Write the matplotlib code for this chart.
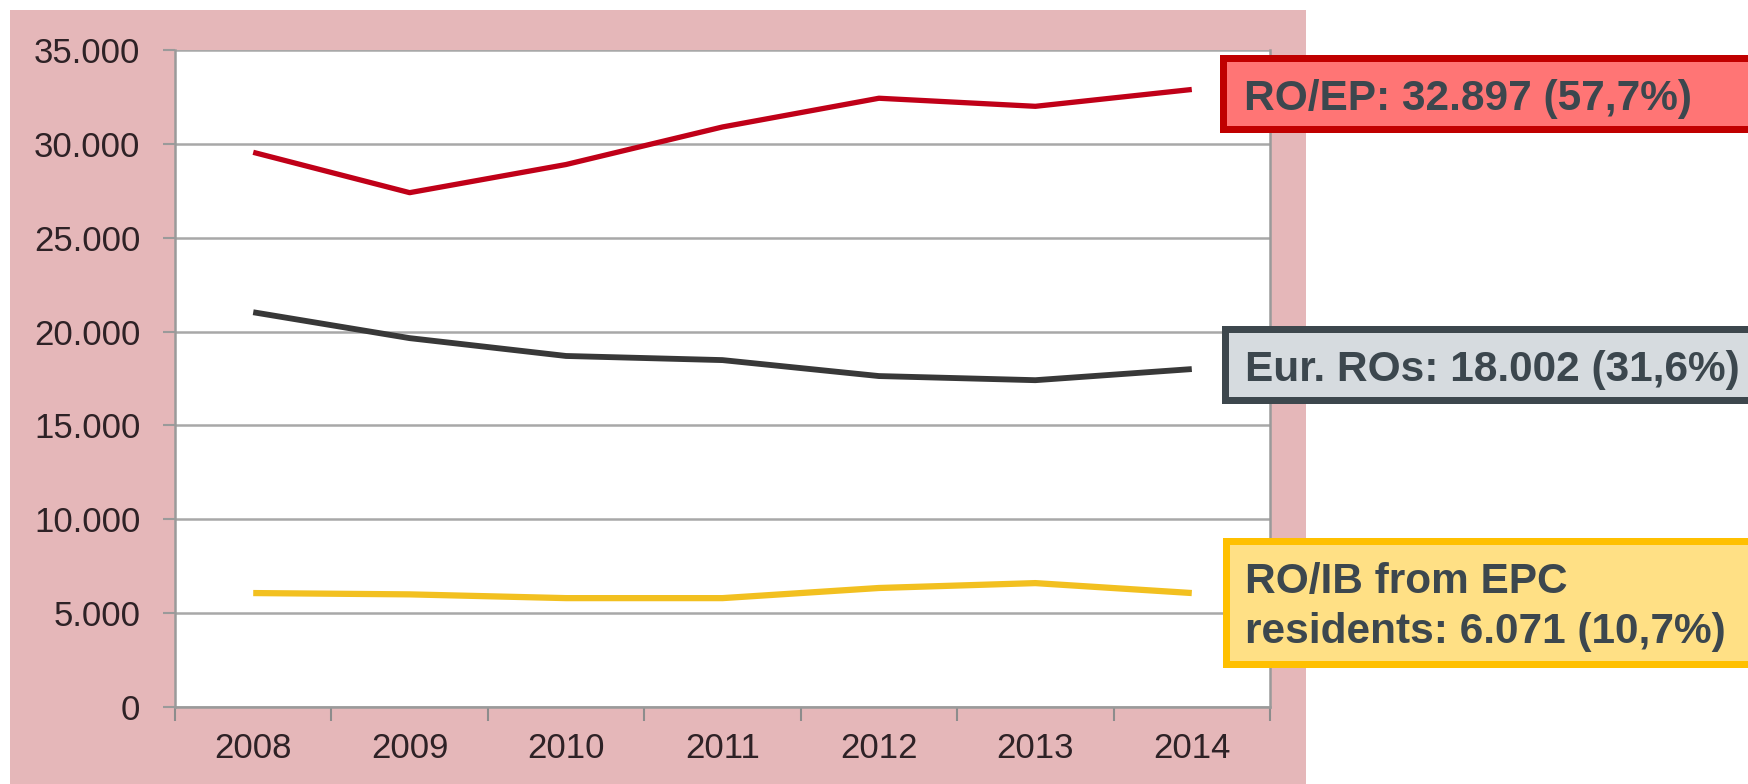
import matplotlib
matplotlib.use("Agg")
import matplotlib.pyplot as plt
from matplotlib.patches import Rectangle

years = ["2008", "2009", "2010", "2011", "2012", "2013", "2014"]
ro_ep = [29550, 27400, 28900, 30900, 32430, 32000, 32897]
eur_ros = [21030, 19650, 18700, 18480, 17630, 17410, 18002]
ro_ib = [6070, 6000, 5800, 5800, 6340, 6600, 6071]
yticks = [0, 5000, 10000, 15000, 20000, 25000, 30000, 35000]
ytick_labels = ["0", "5.000", "10.000", "15.000", "20.000", "25.000", "30.000", "35.000"]

W, H = 1749, 784
fig = plt.figure(figsize=(W / 100, H / 100), dpi=100)
fig.patch.set_facecolor("white")
plt.rcParams["font.family"] = ["Liberation Sans", "DejaVu Sans"]

def fx(px):
    return px / W

def fy(py):
    return 1 - py / H

# pink background panel
fig.add_artist(Rectangle((fx(10), fy(784)), fx(1306) - fx(10), fy(10) - fy(784),
                         transform=fig.transFigure, facecolor="#E5B7B9", edgecolor="none", zorder=0))

ax = fig.add_axes([fx(175), fy(707), fx(1270) - fx(175), fy(50) - fy(707)])
ax.set_facecolor("white")
x = list(range(len(years)))
ax.plot(x, ro_ep, color="#C00018", lw=3.8, solid_joinstyle="round", solid_capstyle="butt", zorder=3)
ax.plot(x, eur_ros, color="#383838", lw=4.2, solid_joinstyle="round", solid_capstyle="butt", zorder=3)
ax.plot(x, ro_ib, color="#F2C020", lw=4.5, solid_joinstyle="round", solid_capstyle="butt", zorder=3)

ax.set_xlim(-0.5, len(years) - 0.5)
ax.set_ylim(0, 35000)
ax.set_yticks(yticks)
ax.set_yticklabels(ytick_labels)
ax.set_xticks(x)
ax.set_xticklabels(years)
ax.set_xticks([i + 0.5 for i in range(-1, len(years))], minor=True)
ax.tick_params(axis="x", which="major", length=0, pad=18, labelsize=25, labelcolor="#2E2226")
ax.tick_params(axis="x", which="minor", length=10, width=1.5, color="#8C8C8C", direction="out")
ax.tick_params(axis="y", length=9, width=1.5, color="#9A9A9A", pad=16, labelsize=25, labelcolor="#2E2226")
ax.grid(axis="y", color="#A8A8A8", lw=1.8, zorder=1)
ax.set_axisbelow(True)
for s in ["left", "bottom", "right", "top"]:
    ax.spines[s].set_color("#9A9A9A")
    ax.spines[s].set_linewidth(1.8)
ax.spines["top"].set_visible(False)

# annotation boxes
def box(x0, y0, y1, face, edge):
    lw_px = 7
    fig.add_artist(Rectangle((fx(x0 + lw_px / 2), fy(y1 - lw_px / 2)),
                             fx(W + 20) - fx(x0), fy(y0 + lw_px / 2) - fy(y1 - lw_px / 2),
                             transform=fig.transFigure, facecolor=face, edgecolor=edge,
                             linewidth=lw_px * 0.72, zorder=5))

txt_color = "#3C474E"
fs = 30.5
box(1219, 55, 132, "#FF7575", "#C00000")
fig.text(fx(1244), fy(110), "RO/EP: 32.897 (57,7%)", fontsize=fs, fontweight="bold",
         color=txt_color, va="baseline", ha="left", zorder=6)

box(1222, 326, 403, "#D6DBDF", "#3D474D")
fig.text(fx(1245), fy(381), "Eur. ROs: 18.002 (31,6%)", fontsize=fs, fontweight="bold",
         color=txt_color, va="baseline", ha="left", zorder=6)

box(1223, 537, 667, "#FFE085", "#FFC000")
fig.text(fx(1245), fy(593), "RO/IB from EPC", fontsize=fs, fontweight="bold",
         color=txt_color, va="baseline", ha="left", zorder=6)
fig.text(fx(1245), fy(643), "residents: 6.071 (10,7%)", fontsize=fs, fontweight="bold",
         color=txt_color, va="baseline", ha="left", zorder=6)

fig.savefig("out.png", dpi=100, facecolor=fig.get_facecolor())
